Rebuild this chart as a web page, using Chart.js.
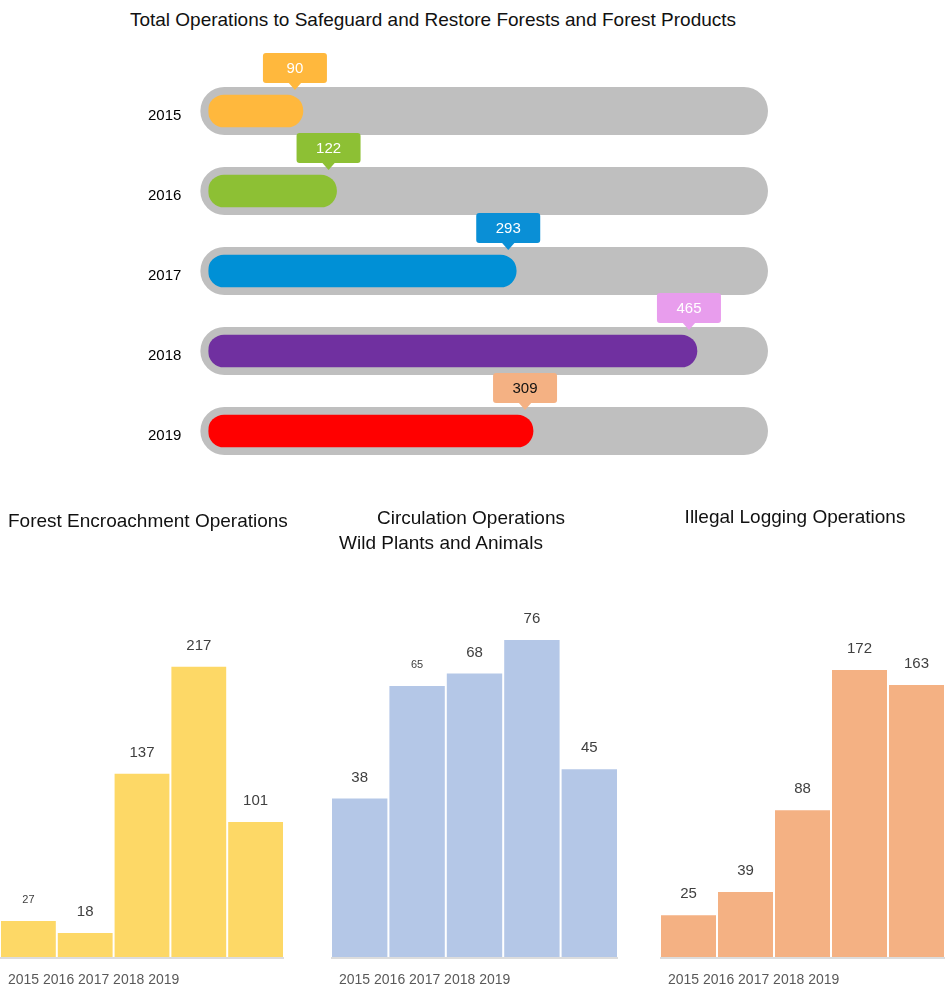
<!DOCTYPE html>
<html>
<head>
    <title>Forest Operations 2015-2019</title>
    <meta charset="utf-8" />
    <script src="https://cdn.jsdelivr.net/npm/chart.js"></script>
    <style>
        body { margin: 0; background: #fff; font-family: "Liberation Sans", Arial, sans-serif; }
        .page { position: relative; width: 945px; height: 987px; overflow: hidden; }
        .title { position: absolute; color: #111; font-size: 19px; line-height: 22px; white-space: nowrap; }
        .center { transform: translateX(-50%); }
        canvas { position: absolute; }
    </style>
</head>
<body>
<div class="page">
    <div class="title center" style="left: 433px; top: 9px;">Total Operations to Safeguard and Restore Forests and Forest Products</div>
    <canvas id="totalChart" width="945" height="520" style="left: 0; top: 0;"></canvas>

    <div class="title" style="left: 8px; top: 510px;">Forest Encroachment Operations</div>
    <div class="title center" style="left: 471px; top: 507px;">Circulation Operations</div>
    <div class="title center" style="left: 441px; top: 532px;">Wild Plants and Animals</div>
    <div class="title center" style="left: 795px; top: 506px;">Illegal Logging Operations</div>

    <canvas id="encroachChart" width="284" height="427" style="left: 0; top: 560px;"></canvas>
    <canvas id="wildlifeChart" width="287" height="427" style="left: 331px; top: 560px;"></canvas>
    <canvas id="loggingChart" width="285" height="427" style="left: 660px; top: 560px;"></canvas>
</div>
<script>
    const years = ['2015', '2016', '2017', '2018', '2019'];
    const totalOps = [90, 122, 293, 465, 309];
    const encroachment = [27, 18, 137, 217, 101];
    const wildlife = [38, 65, 68, 76, 45];
    const logging = [25, 39, 88, 172, 163];

    const barColors = ['#ffb83d', '#8dc034', '#0090d6', '#7030a0', '#ff0000'];
    const tagColors = ['#ffb83d', '#8dc034', '#0a8fd6', '#e89ded', '#f4b183'];
    const tagText = ['#fff', '#fff', '#fff', '#fff', '#111'];

    const FONT = '"Liberation Sans", Arial, sans-serif';
    Chart.defaults.font.family = FONT;

    // grey rounded track behind each bar
    const trackPlugin = {
        id: 'track',
        beforeDatasetsDraw(chart) {
            const { ctx, chartArea } = chart;
            ctx.save();
            ctx.fillStyle = '#bfbfbf';
            chart.getDatasetMeta(0).data.forEach(bar => {
                ctx.beginPath();
                ctx.roundRect(chartArea.left - 8, bar.y - 24, chartArea.width + 16, 48, 24);
                ctx.fill();
            });
            ctx.restore();
        }
    };

    // value callouts sitting above the end of each bar
    const tagPlugin = {
        id: 'tags',
        afterDatasetsDraw(chart) {
            const { ctx } = chart;
            const values = chart.data.datasets[0].data;
            ctx.save();
            chart.getDatasetMeta(0).data.forEach((bar, i) => {
                const x = bar.x - 8;
                const top = bar.y - 58;
                ctx.fillStyle = tagColors[i];
                ctx.beginPath();
                ctx.roundRect(x - 32, top, 64, 30, 3);
                ctx.fill();
                ctx.beginPath();
                ctx.moveTo(x - 7, top + 29);
                ctx.lineTo(x + 7, top + 29);
                ctx.lineTo(x, top + 37);
                ctx.closePath();
                ctx.fill();
                ctx.fillStyle = tagText[i];
                ctx.font = '15px ' + FONT;
                ctx.textAlign = 'center';
                ctx.textBaseline = 'middle';
                ctx.fillText(values[i], x, top + 16);
            });
            ctx.restore();
        }
    };

    new Chart(document.getElementById('totalChart'), {
        type: 'bar',
        data: {
            labels: years,
            datasets: [{
                data: totalOps,
                backgroundColor: barColors,
                borderRadius: 16,
                borderSkipped: false,
                barThickness: 32
            }]
        },
        options: {
            indexAxis: 'y',
            responsive: false,
            animation: false,
            layout: { padding: { top: 71, bottom: 49, left: 121, right: 185 } },
            plugins: { legend: { display: false }, tooltip: { enabled: false } },
            scales: {
                x: { display: false, min: 0, max: 525 },
                y: {
                    grid: { display: false, drawTicks: false },
                    border: { display: false },
                    ticks: { color: '#000', font: { size: 15 }, padding: 27, labelOffset: 5 }
                }
            }
        },
        plugins: [trackPlugin, tagPlugin]
    });

    // numbers over the columns, base line and the year row underneath
    const columnLabels = {
        id: 'columnLabels',
        afterDatasetsDraw(chart, args, opts) {
            const { ctx, chartArea } = chart;
            const values = chart.data.datasets[0].data;
            ctx.save();
            ctx.strokeStyle = '#dcdcdc';
            ctx.lineWidth = 2;
            ctx.beginPath();
            ctx.moveTo(chartArea.left, chartArea.bottom + 1);
            ctx.lineTo(chartArea.right, chartArea.bottom + 1);
            ctx.stroke();

            ctx.fillStyle = '#404040';
            ctx.textAlign = 'center';
            ctx.textBaseline = 'middle';
            chart.getDatasetMeta(0).data.forEach((bar, i) => {
                const size = (opts.small || []).includes(i) ? 11 : 15;
                ctx.font = size + 'px ' + FONT;
                ctx.fillText(values[i], bar.x, bar.y - 21);
            });

            ctx.fillStyle = '#595959';
            ctx.font = '14px ' + FONT;
            ctx.textAlign = 'left';
            ctx.fillText(chart.data.labels.join(' '), chartArea.left + 8, chartArea.bottom + 23);
            ctx.restore();
        }
    };

    function columnChart(id, values, color, max, small) {
        return new Chart(document.getElementById(id), {
            type: 'bar',
            data: {
                labels: years,
                datasets: [{
                    data: values,
                    backgroundColor: color,
                    categoryPercentage: 1,
                    barPercentage: 0.965
                }]
            },
            options: {
                responsive: false,
                animation: false,
                layout: { padding: { top: 40, bottom: 30, left: 0, right: 0 } },
                plugins: {
                    legend: { display: false },
                    tooltip: { enabled: false },
                    columnLabels: { small: small }
                },
                scales: {
                    x: { display: false },
                    y: { display: false, min: 0, max: max }
                }
            },
            plugins: [columnLabels]
        });
    }

    columnChart('encroachChart', encroachment, '#fdd866', 267, [0]);
    columnChart('wildlifeChart', wildlife, '#b4c7e7', 85.6, [1]);
    columnChart('loggingChart', logging, '#f4b183', 214, []);
</script>
</body>
</html>
